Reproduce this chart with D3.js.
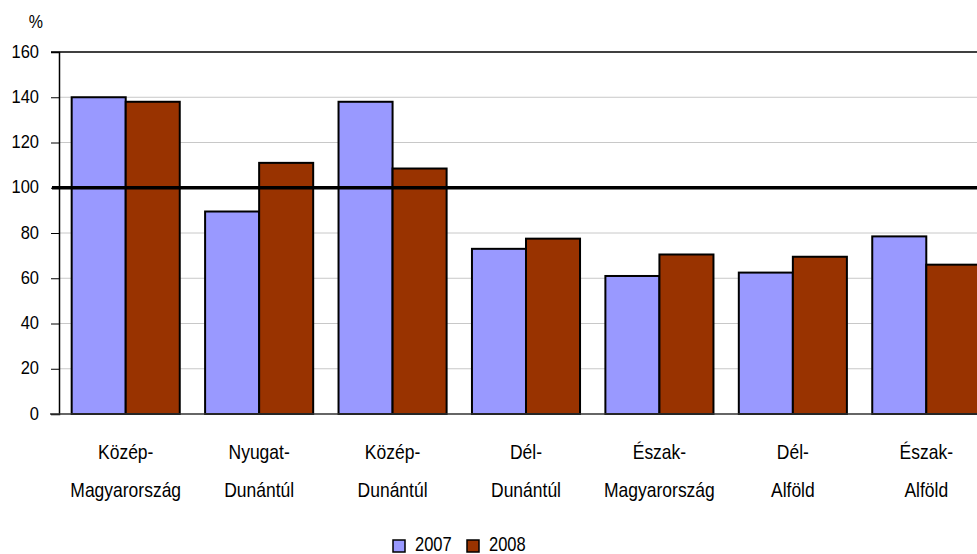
<!DOCTYPE html>
<html>
<head>
<meta charset="utf-8">
<script src="https://cdn.jsdelivr.net/npm/d3@7"></script>
<style>
body { margin: 0; background: #fff; }
text { font-family: "Liberation Sans", Arial, sans-serif; fill: #000; }
</style>
</head>
<body>
<svg id="chart"></svg>
<script>
// data
var regionTop = ["Közép-", "Nyugat-", "Közép-", "Dél-", "Észak-", "Dél-", "Észak-"];
var regionBottom = ["Magyarország", "Dunántúl", "Dunántúl", "Dunántúl", "Magyarország", "Alföld", "Alföld"];
var years = ["2007", "2008"];
var values2007 = [140, 89.5, 138, 73, 61, 62.5, 78.5];
var values2008 = [138, 111, 108.5, 77.5, 70.5, 69.5, 66];
var yTicks = [0, 20, 40, 60, 80, 100, 120, 140, 160];
var refValue = 100;
var colors = ["#9999ff", "#993300"];

// layout
var svgWidth = 977;
var svgHeight = 554;
var plotLeft = 59;
var plotRight = 993;
var plotTop = 52;
var plotBottom = 414;

var svg = d3.select("#chart")
    .attr("width", svgWidth)
    .attr("height", svgHeight);

var keys = regionTop.map(function (d, i) { return i; });

var x0 = d3.scaleBand()
    .domain(keys)
    .range([plotLeft, plotRight])
    .paddingInner(0.19)
    .paddingOuter(0.095);

var x1 = d3.scaleBand()
    .domain(years)
    .range([0, x0.bandwidth()]);

var y = d3.scaleLinear()
    .domain([0, 160])
    .range([plotBottom, plotTop]);

// text slightly taller than wide, like the source
var label = function (g, tx, ty, str, size, anchor, sy) {
    return g.append("text")
        .attr("transform", "translate(" + tx + "," + ty + ") scale(1," + sy + ")")
        .attr("text-anchor", anchor)
        .style("font-size", size + "px")
        .text(str);
};

// gridlines
svg.append("g")
    .selectAll("line")
    .data(yTicks.filter(function (d) { return d > 0 && d < 160; }))
    .join("line")
    .attr("x1", plotLeft)
    .attr("x2", plotRight)
    .attr("y1", function (d) { return y(d); })
    .attr("y2", function (d) { return y(d); })
    .attr("stroke", "#c8c8c8")
    .attr("stroke-width", 1);

// top border
svg.append("line")
    .attr("x1", plotLeft - 8).attr("x2", plotRight)
    .attr("y1", y(160)).attr("y2", y(160))
    .attr("stroke", "#000").attr("stroke-width", 1.5);

// bars
var series = [values2007, values2008];
var groups = svg.append("g")
    .selectAll("g")
    .data(keys)
    .join("g")
    .attr("transform", function (d) { return "translate(" + x0(d) + ",0)"; });

groups.selectAll("rect")
    .data(function (i) {
        return years.map(function (yr, s) { return { year: yr, value: series[s][i], color: colors[s] }; });
    })
    .join("rect")
    .attr("x", function (d) { return x1(d.year); })
    .attr("y", function (d) { return y(d.value); })
    .attr("width", x1.bandwidth())
    .attr("height", function (d) { return y(0) - y(d.value); })
    .attr("fill", function (d) { return d.color; })
    .attr("stroke", "#000")
    .attr("stroke-width", 2);

// left axis
var yAxis = d3.axisLeft(y)
    .tickValues(yTicks)
    .tickSize(8)
    .tickFormat("");
var yAxisG = svg.append("g")
    .attr("transform", "translate(" + plotLeft + ",0)")
    .call(yAxis);
yAxisG.select(".domain").attr("stroke", "#000").attr("stroke-width", 1.5);
yAxisG.selectAll(".tick line").attr("stroke", "#000");

yTicks.forEach(function (v) {
    label(svg, 39, y(v) + 5.5, String(v), 16.5, "end", 1.15);
});
label(svg, 43, 28, "%", 16, "end", 1.15);

// bottom axis line
svg.append("line")
    .attr("x1", plotLeft - 9).attr("x2", plotRight)
    .attr("y1", y(0)).attr("y2", y(0))
    .attr("stroke", "#333").attr("stroke-width", 1.5);

// reference line at 100
svg.append("line")
    .attr("x1", plotLeft - 7).attr("x2", plotRight)
    .attr("y1", y(refValue)).attr("y2", y(refValue))
    .attr("stroke", "#000").attr("stroke-width", 3.5);

// category labels
keys.forEach(function (i) {
    var cx = x0(i) + x0.bandwidth() / 2;
    label(svg, cx, 459, regionTop[i], 17.5, "middle", 1.12);
    label(svg, cx, 497, regionBottom[i], 17.5, "middle", 1.12);
});

// legend
var legendX = [393, 467];
years.forEach(function (yr, s) {
    svg.append("rect")
        .attr("x", legendX[s])
        .attr("y", 540)
        .attr("width", 12)
        .attr("height", 12)
        .attr("fill", colors[s])
        .attr("stroke", "#000")
        .attr("stroke-width", 1.5);
    label(svg, legendX[s] + 22, 551, yr, 16.5, "start", 1.2);
});
</script>
</body>
</html>
